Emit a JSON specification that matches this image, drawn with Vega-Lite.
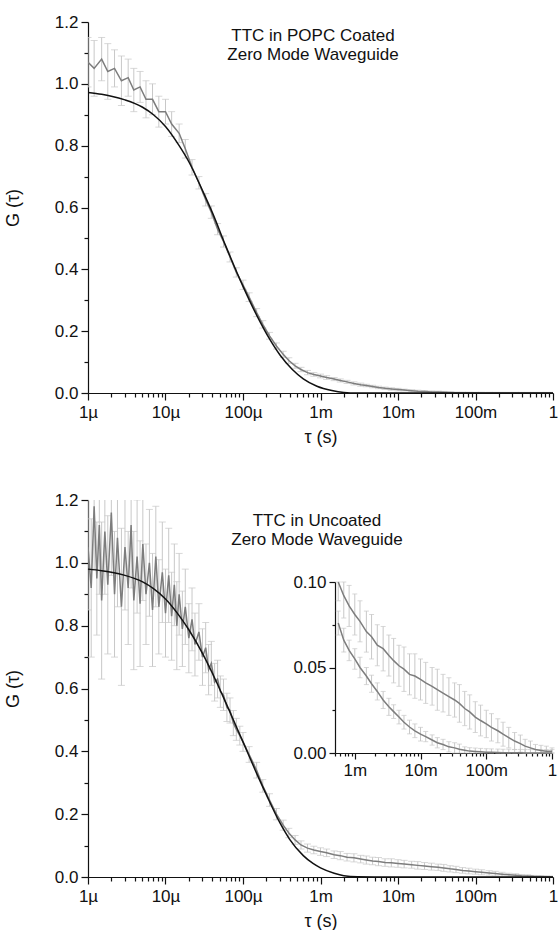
{
  "$schema": "https://vega.github.io/schema/vega-lite/v6.json",
  "padding": {"left": 4, "top": 13, "right": 0, "bottom": 0},
  "spacing": 45,
  "config": {
    "view": {"stroke": null},
    "font": "Liberation Sans",
    "axis": {"grid": false, "domainColor": "#111", "tickColor": "#111", "labelColor": "#111", "titleColor": "#111", "labelFontSize": 17, "titleFontSize": 18, "titleFontWeight": "normal", "labelFont": "Liberation Sans", "titleFont": "Liberation Sans", "domainWidth": 1.2, "tickWidth": 1.2}
  },
  "datasets": {
    "coated": [
      {"t":1e-6,"g":1.07,"e":0.08},{"t":1.2e-6,"g":1.05,"e":0.09},{"t":1.5e-6,"g":1.08,"e":0.07},{"t":1.8e-6,"g":1.04,"e":0.09},{"t":2.2e-6,"g":1.05,"e":0.06},{"t":2.7e-6,"g":1.01,"e":0.08},{"t":3.3e-6,"g":1.02,"e":0.06},{"t":3.9e-6,"g":0.98,"e":0.07},{"t":4.7e-6,"g":0.99,"e":0.05},{"t":5.6e-6,"g":0.95,"e":0.06},{"t":6.8e-6,"g":0.95,"e":0.05},{"t":8.2e-6,"g":0.91,"e":0.05},
      {"t":1e-5,"g":0.91,"e":0.04},{"t":1.2e-5,"g":0.87,"e":0.04},{"t":1.5e-5,"g":0.84,"e":0.03},{"t":1.8e-5,"g":0.79,"e":0.03},{"t":2.2e-5,"g":0.73,"e":0.025},{"t":2.7e-5,"g":0.68,"e":0.02},{"t":3.3e-5,"g":0.625,"e":0.02},{"t":3.9e-5,"g":0.585,"e":0.02},{"t":4.7e-5,"g":0.53,"e":0.018},{"t":5.6e-5,"g":0.49,"e":0.018},{"t":6.8e-5,"g":0.44,"e":0.016},{"t":8.2e-5,"g":0.39,"e":0.015},
      {"t":1e-4,"g":0.35,"e":0.015},{"t":1.2e-4,"g":0.31,"e":0.014},{"t":1.5e-4,"g":0.26,"e":0.013},{"t":1.8e-4,"g":0.222,"e":0.012},{"t":2.2e-4,"g":0.185,"e":0.011},{"t":2.7e-4,"g":0.152,"e":0.01},{"t":3.3e-4,"g":0.125,"e":0.01},{"t":3.9e-4,"g":0.105,"e":0.009},{"t":4.7e-4,"g":0.088,"e":0.008},{"t":5.6e-4,"g":0.076,"e":0.007},{"t":6.8e-4,"g":0.066,"e":0.007},{"t":8.2e-4,"g":0.06,"e":0.006},
      {"t":1e-3,"g":0.055,"e":0.006},{"t":1.2e-3,"g":0.05,"e":0.006},{"t":1.5e-3,"g":0.045,"e":0.005},{"t":1.8e-3,"g":0.0405,"e":0.005},{"t":2.2e-3,"g":0.036,"e":0.005},{"t":2.7e-3,"g":0.031,"e":0.005},{"t":3.3e-3,"g":0.027,"e":0.005},{"t":3.9e-3,"g":0.0242,"e":0.004},{"t":4.7e-3,"g":0.021,"e":0.004},{"t":5.6e-3,"g":0.018,"e":0.004},{"t":6.8e-3,"g":0.0152,"e":0.004},{"t":8.2e-3,"g":0.013,"e":0.004},
      {"t":1e-2,"g":0.011,"e":0.004},{"t":1.2e-2,"g":0.0096,"e":0.003},{"t":1.5e-2,"g":0.0076,"e":0.003},{"t":1.8e-2,"g":0.006,"e":0.003},{"t":2.2e-2,"g":0.005,"e":0.003},{"t":2.7e-2,"g":0.0036,"e":0.003},{"t":3.3e-2,"g":0.003,"e":0.003},{"t":3.9e-2,"g":0.0022,"e":0.003},{"t":4.7e-2,"g":0.0016,"e":0.002},{"t":5.6e-2,"g":0.0011,"e":0.002},{"t":6.8e-2,"g":0.0009,"e":0.002},{"t":8.2e-2,"g":0.0007,"e":0.002},
      {"t":0.1,"g":0.0005,"e":0.002},{"t":0.12,"g":0.0004,"e":0.002},{"t":0.15,"g":0.0003,"e":0.002},{"t":0.18,"g":0.0002,"e":0.002},{"t":0.22,"g":0.0002,"e":0.002},{"t":0.27,"g":0.0001,"e":0.002},{"t":0.33,"g":0.0001,"e":0.002},{"t":0.39,"g":0,"e":0.002},{"t":0.47,"g":0,"e":0.002},{"t":0.56,"g":0,"e":0.002},{"t":0.68,"g":0,"e":0.002},{"t":0.82,"g":0,"e":0.002},{"t":1,"g":0,"e":0.002}
    ],
    "uncoated": [
      {"t":1e-6,"g":1.05,"e":0.2},{"t":1.1e-6,"g":0.92,"e":0.22},{"t":1.2e-6,"g":1.18,"e":0.2},{"t":1.3e-6,"g":0.95,"e":0.18},{"t":1.4e-6,"g":1.12,"e":0.22},{"t":1.5e-6,"g":0.88,"e":0.25},{"t":1.65e-6,"g":1.1,"e":0.2},{"t":1.8e-6,"g":0.93,"e":0.22},{"t":2e-6,"g":1.16,"e":0.2},{"t":2.2e-6,"g":0.9,"e":0.2},{"t":2.4e-6,"g":1.08,"e":0.22},{"t":2.7e-6,"g":0.86,"e":0.25},{"t":3e-6,"g":1.05,"e":0.2},{"t":3.3e-6,"g":0.92,"e":0.18},{"t":3.6e-6,"g":1.12,"e":0.2},{"t":3.9e-6,"g":0.88,"e":0.22},{"t":4.3e-6,"g":1.02,"e":0.18},{"t":4.7e-6,"g":0.87,"e":0.2},{"t":5.1e-6,"g":1.06,"e":0.18},{"t":5.6e-6,"g":0.9,"e":0.16},{"t":6.2e-6,"g":1.0,"e":0.17},{"t":6.8e-6,"g":0.85,"e":0.18},{"t":7.5e-6,"g":1.02,"e":0.16},{"t":8.2e-6,"g":0.86,"e":0.15},{"t":9.1e-6,"g":0.97,"e":0.16},
      {"t":1e-5,"g":0.84,"e":0.14},{"t":1.1e-5,"g":0.96,"e":0.15},{"t":1.2e-5,"g":0.83,"e":0.14},{"t":1.3e-5,"g":0.93,"e":0.13},{"t":1.4e-5,"g":0.8,"e":0.14},{"t":1.5e-5,"g":0.9,"e":0.13},{"t":1.65e-5,"g":0.79,"e":0.12},{"t":1.8e-5,"g":0.86,"e":0.12},{"t":2e-5,"g":0.76,"e":0.11},{"t":2.2e-5,"g":0.82,"e":0.1},{"t":2.4e-5,"g":0.74,"e":0.1},{"t":2.7e-5,"g":0.78,"e":0.09},{"t":3e-5,"g":0.7,"e":0.09},{"t":3.3e-5,"g":0.73,"e":0.08},{"t":3.6e-5,"g":0.66,"e":0.08},{"t":3.9e-5,"g":0.68,"e":0.07},{"t":4.3e-5,"g":0.62,"e":0.06},{"t":4.7e-5,"g":0.63,"e":0.06},{"t":5.1e-5,"g":0.59,"e":0.05},{"t":5.6e-5,"g":0.58,"e":0.05},{"t":6.2e-5,"g":0.54,"e":0.045},{"t":6.8e-5,"g":0.53,"e":0.04},{"t":7.5e-5,"g":0.49,"e":0.04},{"t":8.2e-5,"g":0.47,"e":0.035},{"t":9.1e-5,"g":0.45,"e":0.03},
      {"t":1e-4,"g":0.43,"e":0.03},{"t":1.2e-4,"g":0.39,"e":0.025},{"t":1.5e-4,"g":0.34,"e":0.025},{"t":1.8e-4,"g":0.29,"e":0.02},{"t":2.2e-4,"g":0.245,"e":0.02},{"t":2.7e-4,"g":0.2,"e":0.018},{"t":3.3e-4,"g":0.165,"e":0.016},{"t":3.9e-4,"g":0.14,"e":0.015},{"t":4.7e-4,"g":0.118,"e":0.014},{"t":5.6e-4,"g":0.102,"e":0.013},{"t":6.8e-4,"g":0.092,"e":0.013},{"t":8.2e-4,"g":0.086,"e":0.012},
      {"t":1e-3,"g":0.081,"e":0.012},{"t":1.2e-3,"g":0.077,"e":0.012},{"t":1.5e-3,"g":0.071,"e":0.012},{"t":1.8e-3,"g":0.068,"e":0.013},{"t":2.2e-3,"g":0.063,"e":0.012},{"t":2.7e-3,"g":0.061,"e":0.013},{"t":3.3e-3,"g":0.057,"e":0.012},{"t":3.9e-3,"g":0.054,"e":0.013},{"t":4.7e-3,"g":0.051,"e":0.012},{"t":5.6e-3,"g":0.049,"e":0.013},{"t":6.8e-3,"g":0.046,"e":0.012},{"t":8.2e-3,"g":0.045,"e":0.013},
      {"t":1e-2,"g":0.043,"e":0.012},{"t":1.2e-2,"g":0.041,"e":0.012},{"t":1.5e-2,"g":0.039,"e":0.011},{"t":1.8e-2,"g":0.037,"e":0.012},{"t":2.2e-2,"g":0.035,"e":0.011},{"t":2.7e-2,"g":0.033,"e":0.011},{"t":3.3e-2,"g":0.031,"e":0.01},{"t":3.9e-2,"g":0.029,"e":0.011},{"t":4.7e-2,"g":0.026,"e":0.01},{"t":5.6e-2,"g":0.024,"e":0.01},{"t":6.8e-2,"g":0.021,"e":0.009},{"t":8.2e-2,"g":0.019,"e":0.009},
      {"t":0.1,"g":0.017,"e":0.008},{"t":0.12,"g":0.015,"e":0.008},{"t":0.15,"g":0.013,"e":0.007},{"t":0.18,"g":0.011,"e":0.007},{"t":0.22,"g":0.009,"e":0.006},{"t":0.27,"g":0.007,"e":0.005},{"t":0.33,"g":0.0055,"e":0.005},{"t":0.39,"g":0.004,"e":0.004},{"t":0.47,"g":0.003,"e":0.004},{"t":0.56,"g":0.002,"e":0.003},{"t":0.68,"g":0.0015,"e":0.003},{"t":0.82,"g":0.001,"e":0.003},{"t":1,"g":0.001,"e":0.002}
    ],
    "fitCoated": [
      {"t":1e-6,"g":0.972},{"t":1.5e-6,"g":0.966},{"t":2e-6,"g":0.96},{"t":3e-6,"g":0.948},{"t":5e-6,"g":0.925},{"t":7e-6,"g":0.9},{"t":1e-5,"g":0.862},{"t":1.5e-5,"g":0.8},{"t":2e-5,"g":0.748},{"t":3e-5,"g":0.655},{"t":4e-5,"g":0.585},{"t":6e-5,"g":0.475},{"t":1e-4,"g":0.345},{"t":1.5e-4,"g":0.252},{"t":2.2e-4,"g":0.175},{"t":3e-4,"g":0.123},{"t":4.3e-4,"g":0.077},{"t":6e-4,"g":0.046},{"t":9e-4,"g":0.022},{"t":1.4e-3,"g":0.008},{"t":2e-3,"g":0.002},{"t":3e-3,"g":0.0002},{"t":5e-3,"g":0},{"t":1,"g":0}
    ],
    "fitUncoated": [
      {"t":1e-6,"g":0.98},{"t":1.5e-6,"g":0.975},{"t":2e-6,"g":0.97},{"t":3e-6,"g":0.96},{"t":5e-6,"g":0.94},{"t":7e-6,"g":0.918},{"t":1e-5,"g":0.885},{"t":1.5e-5,"g":0.832},{"t":2e-5,"g":0.787},{"t":3e-5,"g":0.712},{"t":4e-5,"g":0.65},{"t":6e-5,"g":0.555},{"t":1e-4,"g":0.43},{"t":1.5e-4,"g":0.33},{"t":2e-4,"g":0.262},{"t":3e-4,"g":0.172},{"t":4e-4,"g":0.12},{"t":6e-4,"g":0.068},{"t":8e-4,"g":0.043},{"t":1e-3,"g":0.029},{"t":1.5e-3,"g":0.012},{"t":2e-3,"g":0.004},{"t":3e-3,"g":0.0005},{"t":5e-3,"g":0},{"t":1,"g":0}
    ],
    "labelsTop": [
      {"t":8e-4,"g":1.14,"label":"TTC in POPC Coated"},
      {"t":8e-4,"g":1.078,"label":"Zero Mode Waveguide"}
    ],
    "labelsBottom": [
      {"t":9e-4,"g":1.118,"label":"TTC in Uncoated"},
      {"t":9e-4,"g":1.057,"label":"Zero Mode Waveguide"}
    ]
  },
  "vconcat": [
    {
      "width": 465,
      "height": 371,
      "encoding": {
        "x": {"field": "t", "type": "quantitative",
          "scale": {"type": "log", "domain": [1e-6, 1]},
          "axis": {"title": "τ (s)", "labelPadding": 4, "titlePadding": 8, "labelOverlap": false, "labelFlush": false,
            "values": [1e-6,2e-6,3e-6,4e-6,5e-6,6e-6,7e-6,8e-6,9e-6,1e-5,2e-5,3e-5,4e-5,5e-5,6e-5,7e-5,8e-5,9e-5,1e-4,2e-4,3e-4,4e-4,5e-4,6e-4,7e-4,8e-4,9e-4,1e-3,2e-3,3e-3,4e-3,5e-3,6e-3,7e-3,8e-3,9e-3,1e-2,2e-2,3e-2,4e-2,5e-2,6e-2,7e-2,8e-2,9e-2,0.1,0.2,0.3,0.4,0.5,0.6,0.7,0.8,0.9,1],
            "labelExpr": "abs(log(datum.value)/LN10 - round(log(datum.value)/LN10)) < 0.01 ? format(datum.value, '~s') : ''",
            "tickSize": {"condition": {"test": "abs(log(datum.value)/LN10 - round(log(datum.value)/LN10)) < 0.01", "value": 7}, "value": 4}}},
        "y": {"field": "g", "type": "quantitative",
          "scale": {"domain": [0, 1.2], "nice": false},
          "axis": {"title": "G (τ)", "labelPadding": 3, "titlePadding": 32,
            "values": [0,0.1,0.2,0.3,0.4,0.5,0.6,0.7,0.8,0.9,1.0,1.1,1.2],
            "labelExpr": "round(datum.value*10) % 2 == 0 ? format(datum.value, '.1f') : ''",
            "tickSize": {"condition": {"test": "round(datum.value*10) % 2 == 0", "value": 7}, "value": 4}}}
      },
      "layer": [
        {"data": {"name": "coated"}, "mark": {"type": "errorbar", "clip": true, "rule": {"color": "#c8c8c8", "strokeWidth": 1}, "ticks": {"color": "#c8c8c8", "size": 7, "strokeWidth": 1}}, "encoding": {"yError": {"field": "e"}}},
        {"data": {"name": "coated"}, "mark": {"type": "line", "color": "#7d7d7d", "strokeWidth": 1.5, "clip": true}, "encoding": {}},
        {"data": {"name": "fitCoated"}, "mark": {"type": "line", "color": "#111", "strokeWidth": 1.5, "interpolate": "monotone"}, "encoding": {}},
        {"data": {"name": "labelsTop"}, "mark": {"type": "text", "fontSize": 17, "font": "Liberation Sans", "color": "#111", "align": "center", "baseline": "alphabetic"}, "encoding": {"text": {"field": "label"}}}
      ]
    },
    {
      "width": 465,
      "height": 377,
      "resolve": {"scale": {"x": "independent", "y": "independent"}, "axis": {"x": "independent", "y": "independent"}},
      "layer": [
        {
          "encoding": {
            "x": {"field": "t", "type": "quantitative",
              "scale": {"type": "log", "domain": [1e-6, 1]},
              "axis": {"orient": "bottom", "title": "τ (s)", "labelPadding": 4, "titlePadding": 8, "labelOverlap": false, "labelFlush": false,
                "values": [1e-6,2e-6,3e-6,4e-6,5e-6,6e-6,7e-6,8e-6,9e-6,1e-5,2e-5,3e-5,4e-5,5e-5,6e-5,7e-5,8e-5,9e-5,1e-4,2e-4,3e-4,4e-4,5e-4,6e-4,7e-4,8e-4,9e-4,1e-3,2e-3,3e-3,4e-3,5e-3,6e-3,7e-3,8e-3,9e-3,1e-2,2e-2,3e-2,4e-2,5e-2,6e-2,7e-2,8e-2,9e-2,0.1,0.2,0.3,0.4,0.5,0.6,0.7,0.8,0.9,1],
                "labelExpr": "abs(log(datum.value)/LN10 - round(log(datum.value)/LN10)) < 0.01 ? format(datum.value, '~s') : ''",
                "tickSize": {"condition": {"test": "abs(log(datum.value)/LN10 - round(log(datum.value)/LN10)) < 0.01", "value": 7}, "value": 4}}},
            "y": {"field": "g", "type": "quantitative",
              "scale": {"domain": [0, 1.2], "nice": false},
              "axis": {"orient": "left", "title": "G (τ)", "labelPadding": 3, "titlePadding": 32,
                "values": [0,0.1,0.2,0.3,0.4,0.5,0.6,0.7,0.8,0.9,1.0,1.1,1.2],
                "labelExpr": "round(datum.value*10) % 2 == 0 ? format(datum.value, '.1f') : ''",
                "tickSize": {"condition": {"test": "round(datum.value*10) % 2 == 0", "value": 7}, "value": 4}}}
          },
          "layer": [
            {"data": {"name": "uncoated"}, "mark": {"type": "errorbar", "clip": true, "rule": {"color": "#c8c8c8", "strokeWidth": 1}, "ticks": {"color": "#c8c8c8", "size": 7, "strokeWidth": 1}}, "encoding": {"yError": {"field": "e"}}},
            {"data": {"name": "uncoated"}, "mark": {"type": "line", "color": "#7d7d7d", "strokeWidth": 1.5, "clip": true}, "encoding": {}},
            {"data": {"name": "fitUncoated"}, "mark": {"type": "line", "color": "#111", "strokeWidth": 1.5, "interpolate": "monotone"}, "encoding": {}},
            {"data": {"name": "labelsBottom"}, "mark": {"type": "text", "fontSize": 17, "font": "Liberation Sans", "color": "#111", "align": "center", "baseline": "alphabetic"}, "encoding": {"text": {"field": "label"}}}
          ]
        },
        {
          "encoding": {
            "x": {"field": "t", "type": "quantitative",
              "scale": {"type": "log", "domain": [0.0005, 1], "range": [247, 464]},
              "axis": {"orient": "bottom", "offset": -124, "title": null, "labelPadding": 3, "labelOverlap": false, "labelFlush": false,
                "values": [5e-4,6e-4,7e-4,8e-4,9e-4,1e-3,2e-3,3e-3,4e-3,5e-3,6e-3,7e-3,8e-3,9e-3,1e-2,2e-2,3e-2,4e-2,5e-2,6e-2,7e-2,8e-2,9e-2,0.1,0.2,0.3,0.4,0.5,0.6,0.7,0.8,0.9,1],
                "labelExpr": "abs(log(datum.value)/LN10 - round(log(datum.value)/LN10)) < 0.01 ? format(datum.value, '~s') : ''",
                "tickSize": {"condition": {"test": "abs(log(datum.value)/LN10 - round(log(datum.value)/LN10)) < 0.01", "value": 6}, "value": 3}}},
            "y": {"field": "g", "type": "quantitative",
              "scale": {"domain": [0, 0.1], "nice": false, "range": [253, 82], "clamp": true},
              "axis": {"orient": "left", "offset": -247, "title": null, "labelPadding": 3,
                "values": [0, 0.025, 0.05, 0.075, 0.1],
                "labelExpr": "round(datum.value*40) % 2 == 0 ? format(datum.value, '.2f') : ''",
                "tickSize": {"condition": {"test": "round(datum.value*40) % 2 == 0", "value": 6}, "value": 3}}}
          },
          "layer": [
            {"data": {"name": "uncoated"}, "transform": [{"filter": "datum.t >= 0.0005"}], "mark": {"type": "errorbar", "rule": {"color": "#c8c8c8", "strokeWidth": 1}, "ticks": {"color": "#c8c8c8", "size": 5, "strokeWidth": 1}}, "encoding": {"yError": {"field": "e"}}},
            {"data": {"name": "coated"}, "transform": [{"filter": "datum.t >= 0.0005"}], "mark": {"type": "errorbar", "rule": {"color": "#c8c8c8", "strokeWidth": 1}, "ticks": {"color": "#c8c8c8", "size": 5, "strokeWidth": 1}}, "encoding": {"yError": {"field": "e"}}},
            {"data": {"name": "uncoated"}, "transform": [{"filter": "datum.t >= 0.0005"}], "mark": {"type": "line", "color": "#7d7d7d", "strokeWidth": 1.5}, "encoding": {}},
            {"data": {"name": "coated"}, "transform": [{"filter": "datum.t >= 0.0005"}], "mark": {"type": "line", "color": "#7d7d7d", "strokeWidth": 1.5}, "encoding": {}}
          ]
        }
      ]
    }
  ]
}
